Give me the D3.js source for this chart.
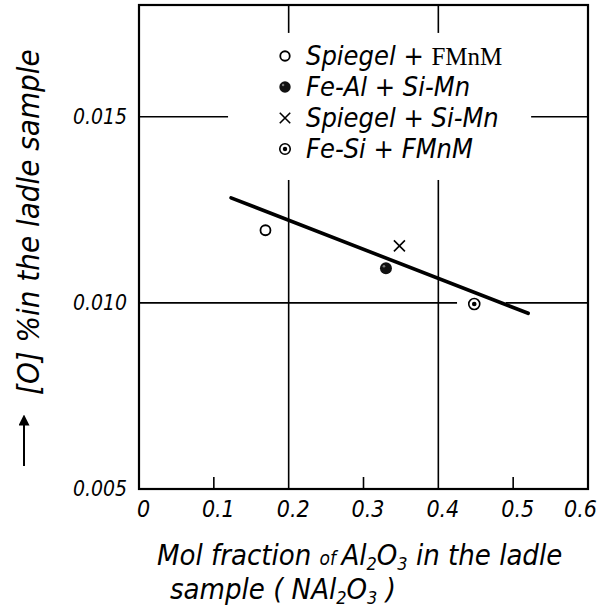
<html>
  <head>
    <script src="https://d3js.org/d3.v7.min.js" charset="utf-8"></script>
    <style>
      body { margin: 0; background: #fff; }
      .hand { font-family: "DejaVu Sans Condensed", "Liberation Sans Narrow", "DejaVu Sans", sans-serif; font-style: italic; }
    </style>
  </head>
  <body>
    <script>
      var w = 597;
      var h = 612;

      // series (legend order)
      var seriesNames = ["Spiegel", "Fe-Al", "Spiegel", "Fe-Si"];
      var seriesAdds = ["FMnM", "Si-Mn", "Si-Mn", "FMnM"];
      var seriesMarks = ["open", "filled", "cross", "double"];
      // one point per series: Mol fraction Al2O3, [O] %
      var alFraction = [0.169, 0.330, 0.348, 0.448];
      var oxygenPct = [0.01195, 0.01093, 0.01153, 0.00997];
      // fitted line ends
      var fitX = [0.123, 0.520];
      var fitY = [0.01282, 0.00972];
      // ticks
      var xTicks = [0, 0.1, 0.2, 0.3, 0.4, 0.5, 0.6];
      var xMinor = [0.1, 0.3, 0.5];
      var xGrid = [0.2, 0.4];
      var yTicks = [0.005, 0.010, 0.015];

      var svg = d3.select("body")
      .append("svg")
      .attr("width", w)
      .attr("height", h);

      var x = d3.scaleLinear().domain([0, 0.6]).range([139, 588]);
      var y = d3.scaleLinear().domain([0.005, 0.018]).range([489, 5]);

      // grid
      svg.selectAll(".vgrid")
      .data(xGrid)
      .enter()
      .append("line")
      .attr("class", "vgrid")
      .attr("x1", function(d){return x(d);})
      .attr("x2", function(d){return x(d);})
      .attr("y1", y.range()[1])
      .attr("y2", y.range()[0])
      .attr("stroke", "#000")
      .attr("stroke-width", 1.6);

      svg.selectAll(".hgrid")
      .data([0.010, 0.015])
      .enter()
      .append("line")
      .attr("class", "hgrid")
      .attr("x1", x.range()[0])
      .attr("x2", x.range()[1])
      .attr("y1", function(d){return y(d);})
      .attr("y2", function(d){return y(d);})
      .attr("stroke", "#000")
      .attr("stroke-width", 1.6);

      // gaps in the grid: around the legend and the last point
      svg.append("rect")
      .attr("x", x(0.119)).attr("y", y(0.01725))
      .attr("width", x(0.524) - x(0.119)).attr("height", y(0.0133) - y(0.01725))
      .attr("fill", "#fff");
      svg.append("rect")
      .attr("x", x(0.425)).attr("y", y(0.0101))
      .attr("width", x(0.49) - x(0.425)).attr("height", y(0.0099) - y(0.0101))
      .attr("fill", "#fff");

      // minor ticks on the bottom
      svg.selectAll(".minor")
      .data(xMinor)
      .enter()
      .append("line")
      .attr("x1", function(d){return x(d);})
      .attr("x2", function(d){return x(d);})
      .attr("y1", y.range()[0])
      .attr("y2", y.range()[0] - 12)
      .attr("stroke", "#000")
      .attr("stroke-width", 1.6);

      // frame
      svg.append("rect")
      .attr("x", x.range()[0])
      .attr("y", y.range()[1])
      .attr("width", x.range()[1] - x.range()[0])
      .attr("height", y.range()[0] - y.range()[1])
      .attr("fill", "none")
      .attr("stroke", "#000")
      .attr("stroke-width", 2.2);

      // axes (labels only)
      var xAxis = svg.append("g")
      .attr("transform", "translate(0," + y.range()[0] + ")")
      .call(d3.axisBottom(x).tickValues(xTicks).tickSize(0).tickPadding(12)
        .tickFormat(function(d){return d === 0 ? "0" : d3.format(".1f")(d);}));
      xAxis.select(".domain").remove();
      xAxis.selectAll("text").attr("class", "hand").attr("font-size", 23).attr("fill", "#000")
      .attr("dx", function(d){return d === 0.6 ? -8 : 4;});

      var yAxis = svg.append("g")
      .attr("transform", "translate(" + x.range()[0] + ",0)")
      .call(d3.axisLeft(y).tickValues(yTicks).tickSize(0).tickPadding(12).tickFormat(d3.format(".3f")));
      yAxis.select(".domain").remove();
      yAxis.selectAll("text").attr("class", "hand").attr("font-size", 21).attr("fill", "#000");

      // fitted line
      svg.append("line")
      .attr("x1", x(fitX[0])).attr("y1", y(fitY[0]))
      .attr("x2", x(fitX[1])).attr("y2", y(fitY[1]))
      .attr("stroke", "#000")
      .attr("stroke-width", 3.6)
      .attr("stroke-linecap", "round");

      function drawMark(g, kind, cx, cy, s){
        if(kind === "open"){
          g.append("circle").attr("cx", cx).attr("cy", cy).attr("r", 5 * s)
          .attr("fill", "#fff").attr("stroke", "#000").attr("stroke-width", 1.8);
        }
        else if(kind === "filled"){
          g.append("circle").attr("cx", cx).attr("cy", cy).attr("r", 6 * s).attr("fill", "#111");
          g.append("circle").attr("cx", cx - 2 * s).attr("cy", cy - 2 * s).attr("r", 1.3 * s).attr("fill", "#777");
        }
        else if(kind === "cross"){
          var r = 5.5 * s;
          g.append("path")
          .attr("d", "M" + (cx - r) + "," + (cy - r) + "L" + (cx + r) + "," + (cy + r) +
            "M" + (cx - r) + "," + (cy + r) + "L" + (cx + r) + "," + (cy - r))
          .attr("stroke", "#000").attr("stroke-width", 1.6);
        }
        else {
          g.append("circle").attr("cx", cx).attr("cy", cy).attr("r", 5.5 * s)
          .attr("fill", "#fff").attr("stroke", "#000").attr("stroke-width", 1.6);
          g.append("circle").attr("cx", cx).attr("cy", cy).attr("r", 2.3 * s).attr("fill", "#000");
        }
      }

      // points
      var pts = svg.append("g");
      seriesMarks.forEach(function(m, i){
        drawMark(pts, m, x(alFraction[i]), y(oxygenPct[i]), 1);
      });

      // legend
      var leg = svg.append("g");
      seriesMarks.forEach(function(m, i){
        var ly = 56 + i * 31;
        drawMark(leg, m, 285, ly, 0.95);
        var t = leg.append("text")
        .attr("x", 306)
        .attr("y", ly + 9)
        .attr("font-size", 27)
        .attr("class", "hand");
        t.append("tspan").text(seriesNames[i] + (i % 2 ? "  " : "") + " + ");
        if(i === 0){
          t.append("tspan").attr("font-family", "Liberation Serif, serif").attr("font-style", "normal")
          .attr("font-size", 25).text(seriesAdds[i]);
        } else {
          t.append("tspan").text(seriesAdds[i]);
        }
      });

      // x title
      var xt1 = svg.append("text").attr("class", "hand").attr("x", 157).attr("y", 565).attr("font-size", 29);
      xt1.append("tspan").text("Mol fraction ");
      xt1.append("tspan").attr("font-size", 19).text("of ");
      xt1.append("tspan").text("Al");
      xt1.append("tspan").attr("font-size", 18).attr("dy", 5).text("2");
      xt1.append("tspan").attr("dy", -5).text("O");
      xt1.append("tspan").attr("font-size", 18).attr("dy", 5).text("3");
      xt1.append("tspan").attr("dy", -5).text(" in the ladle");

      var xt2 = svg.append("text").attr("class", "hand").attr("x", 170).attr("y", 599).attr("font-size", 29);
      xt2.append("tspan").text("sample ( NAl");
      xt2.append("tspan").attr("font-size", 18).attr("dy", 5).text("2");
      xt2.append("tspan").attr("dy", -5).text("O");
      xt2.append("tspan").attr("font-size", 18).attr("dy", 5).text("3");
      xt2.append("tspan").attr("dy", -5).text(" )");

      // y title with arrow
      svg.append("text")
      .attr("class", "hand")
      .attr("transform", "translate(39,395) rotate(-90)")
      .attr("font-size", 31)
      .text("[O] %in the ladle sample");

      svg.append("defs").append("marker")
      .attr("id", "arrowhead")
      .attr("viewBox", "0 0 10 10")
      .attr("refX", 5).attr("refY", 5)
      .attr("markerWidth", 11).attr("markerHeight", 11)
      .attr("markerUnits", "userSpaceOnUse")
      .attr("orient", "auto")
      .append("path")
      .attr("d", "M0,0 L10,5 L0,10 Z")
      .attr("fill", "#000");

      svg.append("line")
      .attr("x1", 24).attr("y1", 466)
      .attr("x2", 24).attr("y2", 420)
      .attr("stroke", "#000")
      .attr("stroke-width", 2)
      .attr("marker-end", "url(#arrowhead)");
    </script>
  </body>
</html>
